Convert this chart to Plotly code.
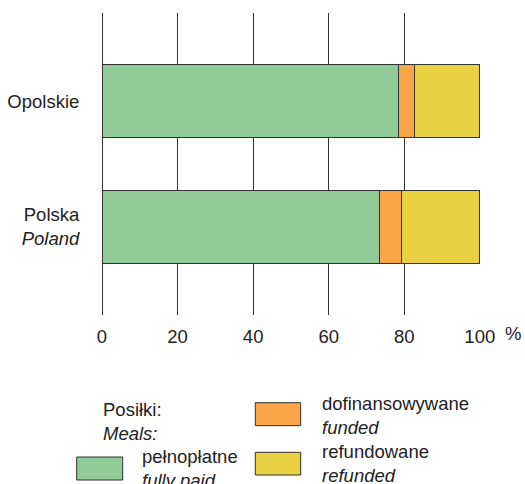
import plotly.graph_objects as go

# Data
regions = ["Opolskie", "Polska<br><i>Poland</i>"]
series_pl = ["pełnopłatne", "dofinansowywane", "refundowane"]
series_en = ["fully paid", "funded", "refunded"]
fully_paid = [78.4, 73.4]
funded = [4.2, 5.8]
refunded = [17.4, 20.8]
x_ticks = [0, 20, 40, 60, 80, 100]

colors = ["#90CB98", "#F9A548", "#E9D142"]
values = [fully_paid, funded, refunded]

FONT = "Liberation Sans, Arial, sans-serif"
FS = 18.5

fig = go.Figure()
for name, vals, col in zip(series_pl, values, colors):
    fig.add_trace(go.Bar(
        y=regions, x=vals, orientation="h", name=name,
        marker=dict(color=col, line=dict(color="#333333", width=1)),
        width=0.58, showlegend=False,
    ))

fig.update_layout(
    barmode="stack",
    width=525, height=484,
    margin=dict(l=102, r=45, t=13, b=169, autoexpand=False),
    plot_bgcolor="white", paper_bgcolor="white",
    font=dict(family=FONT, size=FS, color="#222222"),
    xaxis=dict(
        range=[0, 100.05], tickvals=x_ticks, ticktext=[str(v) for v in x_ticks],
        showgrid=True, gridcolor="#333333", gridwidth=1,
        zeroline=True, zerolinecolor="#333333", zerolinewidth=1,
        showline=False, ticks="outside", ticklen=5, tickcolor="rgba(0,0,0,0)",
        automargin=False, tickfont=dict(size=FS),
    ),
    yaxis=dict(
        type="category", categoryarray=regions, range=[1.7, -0.7],
        showgrid=False, zeroline=False, showline=False, automargin=False,
        ticks="outside", ticklen=18, tickcolor="rgba(0,0,0,0)",
        tickfont=dict(size=FS),
    ),
)

# helpers: reference pixels -> paper coords (plot area spans x 102..480, y 13..315)
def px_x(px):
    return (px - 102) / 378.0

def px_y(py):
    return (315 - py) / 302.0

# "%" unit label
fig.add_annotation(text="%", x=px_x(513), y=px_y(333), xref="paper", yref="paper",
                   xanchor="center", yanchor="middle", showarrow=False,
                   font=dict(size=FS))

# Custom legend
fig.add_annotation(text="Posiłki:<br><i>Meals:</i>", x=px_x(101), y=px_y(421),
                   xref="paper", yref="paper", xanchor="left", yanchor="middle",
                   align="left", showarrow=False, font=dict(size=FS))

legend_boxes = [
    ((76.7, 122.7), (457, 480), (139.5, 468)),
    ((255.3, 300.7), (402.7, 425.7), (320, 415)),
    ((255.3, 300.7), (452.3, 475), (320, 463)),
]
for (xs, ys, txt), pl, en, col in zip(legend_boxes, series_pl, series_en, colors):
    fig.add_shape(type="rect", xref="paper", yref="paper",
                  x0=px_x(xs[0]), x1=px_x(xs[1]), y0=px_y(ys[1]), y1=px_y(ys[0]),
                  fillcolor=col, line=dict(color="#333333", width=1))
    fig.add_annotation(text=f"{pl}<br><i>{en}</i>", x=px_x(txt[0]), y=px_y(txt[1]),
                       xref="paper", yref="paper", xanchor="left", yanchor="middle",
                       align="left", showarrow=False, font=dict(size=FS))

fig.write_html(
    "out.html",
    config={"displayModeBar": False},
    post_script="document.body.style.margin='0';document.body.style.overflow='hidden';",
)
